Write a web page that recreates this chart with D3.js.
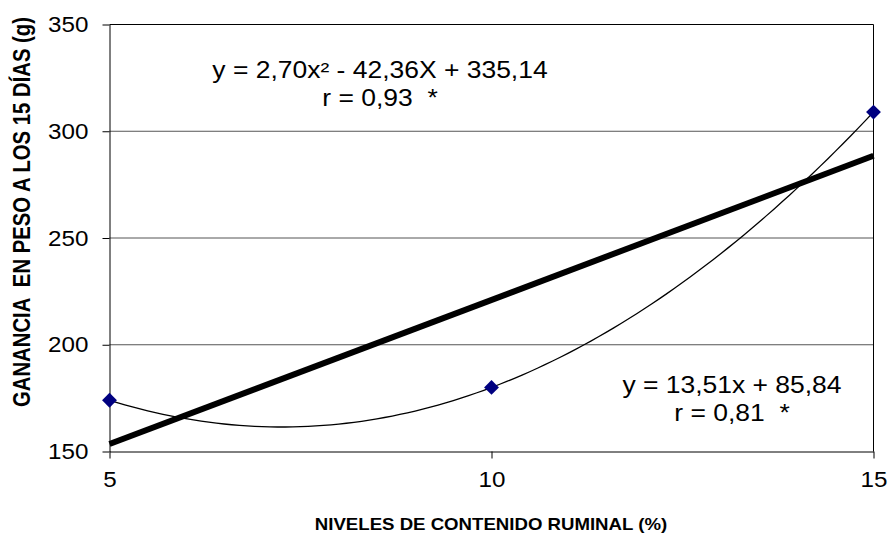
<!DOCTYPE html>
<html>
<head>
<meta charset="utf-8">
<script src="https://cdn.jsdelivr.net/npm/d3@7"></script>
<style>
  html, body { margin: 0; padding: 0; background: #fff; }
  svg { display: block; font-family: Arial, "Liberation Sans", sans-serif; }
</style>
</head>
<body>
<svg id="chart" width="888" height="540"></svg>
<script>
// Observed values: weight gain at 15 days for each rumen-content level
const levels = [5, 10, 15];
const gains = [174, 180, 309];
const xTicks = [5, 10, 15];
const yTicks = [150, 200, 250, 300, 350];
const quadLabel = ["y = 2,70x² - 42,36X + 335,14", "r = 0,93  *"];
const linLabel = ["y = 13,51x + 85,84", "r = 0,81  *"];

const svg = d3.select("#chart");
const plotL = 109.5, plotR = 873.5, plotT = 24.5, plotB = 451.5;
const WIDE = 1.15; // horizontal widening applied to the lettering

const x = d3.scaleLinear().domain([5, 15]).range([plotL, plotR]);
const y = d3.scaleLinear().domain([150, 350]).range([plotB, plotT]);

// Least-squares straight line through the observed points
const mx = d3.mean(levels), my = d3.mean(gains);
const slope = d3.sum(levels, (v, i) => (v - mx) * (gains[i] - my)) / d3.sum(levels, v => (v - mx) ** 2);
const intercept = my - slope * mx;

// Least-squares quadratic (solve the 3x3 normal equations)
function quadFit(xs, ys) {
  const s = k => d3.sum(xs, v => v ** k);
  const t = k => d3.sum(xs, (v, i) => v ** k * ys[i]);
  const M = [[s(4), s(3), s(2), t(2)], [s(3), s(2), s(1), t(1)], [s(2), s(1), xs.length, t(0)]];
  for (let c = 0; c < 3; c++) {
    for (let r = c + 1; r < 3; r++) {
      const f = M[r][c] / M[c][c];
      for (let k = c; k < 4; k++) M[r][k] -= f * M[c][k];
    }
  }
  const sol = [0, 0, 0];
  for (let r = 2; r >= 0; r--) {
    let acc = M[r][3];
    for (let k = r + 1; k < 3; k++) acc -= M[r][k] * sol[k];
    sol[r] = acc / M[r][r];
  }
  return sol; // a, b, c
}
const [qa, qb, qc] = quadFit(levels, gains);

// Widen glyphs horizontally while keeping the anchor point
function widen(sel, k) {
  sel.each(function () {
    const w = this.getComputedTextLength();
    d3.select(this).attr("textLength", w * k).attr("lengthAdjust", "spacingAndGlyphs");
  });
}

// Gridlines
svg.append("g")
  .selectAll("line")
  .data(yTicks.filter(v => v !== 150 && v !== 350))
  .join("line")
  .attr("x1", plotL).attr("x2", plotR)
  .attr("y1", d => y(d)).attr("y2", d => y(d))
  .attr("stroke", "#555").attr("stroke-width", 1);

// Plot-area frame (top and right)
svg.append("path")
  .attr("d", `M${plotL},${plotT}H${plotR}V${plotB}`)
  .attr("fill", "none").attr("stroke", "#000").attr("stroke-width", 1);

// Y axis
const yAxis = svg.append("g")
  .attr("transform", `translate(${plotL},0)`)
  .call(d3.axisLeft(y).tickValues(yTicks).tickSize(7).tickPadding(14).tickSizeOuter(0));
yAxis.select(".domain").attr("stroke", "#000");
yAxis.selectAll(".tick line").attr("stroke", "#000");
yAxis.selectAll(".tick text").attr("font-size", 22).attr("fill", "#000")
  .attr("font-family", "Arial, 'Liberation Sans', sans-serif");
widen(yAxis.selectAll(".tick text"), 1.1);

// X axis
const xAxis = svg.append("g")
  .attr("transform", `translate(0,${plotB})`)
  .call(d3.axisBottom(x).tickValues(xTicks).tickSize(7).tickPadding(13).tickSizeOuter(0));
xAxis.select(".domain").attr("stroke", "#000");
xAxis.selectAll(".tick line").attr("stroke", "#000");
xAxis.selectAll(".tick text").attr("font-size", 22).attr("fill", "#000")
  .attr("font-family", "Arial, 'Liberation Sans', sans-serif");
widen(xAxis.selectAll(".tick text"), 1.1);

// Linear trend (thick)
svg.append("line")
  .attr("x1", x(5)).attr("y1", y(slope * 5 + intercept))
  .attr("x2", x(15)).attr("y2", y(slope * 15 + intercept))
  .attr("stroke", "#000").attr("stroke-width", 6);

// Quadratic trend (thin)
const curveXs = d3.range(5, 15.0001, 0.1);
svg.append("path")
  .datum(curveXs)
  .attr("d", d3.line().x(d => x(d)).y(d => y(qa * d * d + qb * d + qc)))
  .attr("fill", "none").attr("stroke", "#000").attr("stroke-width", 1.3);

// Observed points
svg.append("g")
  .selectAll("path")
  .data(levels.map((v, i) => [v, gains[i]]))
  .join("path")
  .attr("transform", d => `translate(${x(d[0])},${y(d[1])})`)
  .attr("d", d3.symbol(d3.symbolDiamond2, 140))
  .attr("fill", "#000080");

// Equation annotations
function annotate(lines, cx, y0, gap) {
  const t = svg.append("g").selectAll("text")
    .data(lines)
    .join("text")
    .attr("x", cx).attr("y", (d, i) => y0 + i * gap)
    .attr("text-anchor", "middle")
    .attr("font-size", 23).attr("fill", "#000")
    .style("white-space", "pre")
    .text(d => d);
  widen(t, WIDE);
}
annotate(quadLabel, 380, 78, 28);
annotate(linLabel, 732, 393, 28);

// Axis titles
const xTitle = svg.append("text")
  .attr("x", 491).attr("y", 530)
  .attr("text-anchor", "middle")
  .attr("font-size", 16.2).attr("font-weight", "bold")
  .text("NIVELES DE CONTENIDO RUMINAL (%)");
widen(xTitle, WIDE);

svg.append("text")
  .attr("transform", "translate(30,212) scale(1.15,1) rotate(-90)")
  .attr("text-anchor", "middle")
  .attr("font-size", 20.3).attr("font-weight", "bold")
  .style("white-space", "pre")
  .text("GANANCIA  EN PESO A LOS 15 DÍAS (g)");
</script>
</body>
</html>
